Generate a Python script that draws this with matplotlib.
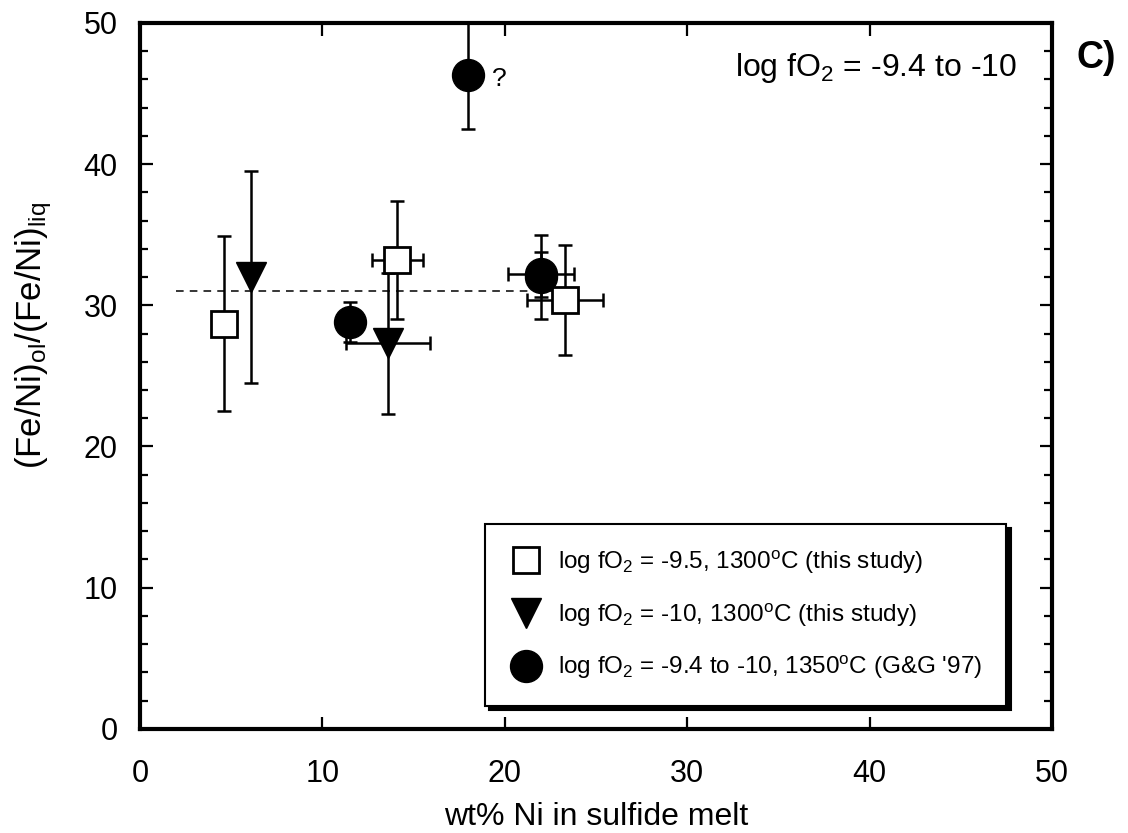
#!/usr/bin/env python3
# -*- coding: utf-8 -*-
"""Fe/Ni exchange between olivine and sulfide liquid vs. Ni content, panel C."""

import matplotlib

matplotlib.use("Agg")
import matplotlib.pyplot as plt
from matplotlib.ticker import MultipleLocator

plt.rcParams["font.family"] = ["Liberation Sans", "DejaVu Sans"]
plt.rcParams["mathtext.default"] = "regular"

# ---------------------------------------------------------------------------
# data
# ---------------------------------------------------------------------------
# log fO2 = -9.5, 1300 C (this study)
sq_x = [4.6, 14.1, 23.3]
sq_y = [28.7, 33.2, 30.4]
sq_xerr = [0.0, 1.4, 2.1]
sq_yerr = [6.2, 4.2, 3.9]

# log fO2 = -10, 1300 C (this study)
tri_x = [6.1, 13.6]
tri_y = [32.0, 27.3]
tri_xerr = [0.0, 2.3]
tri_yerr = [7.5, 5.0]

# log fO2 = -9.4 to -10, 1350 C (G&G '97)
circ_x = [11.5, 18.0, 22.0, 22.0]
circ_y = [28.8, 46.3, 32.2, 32.0]
circ_xerr = [0.0, 0.0, 1.8, 0.0]
circ_yerr = [1.4, 3.8, 1.6, 3.0]

mean_x = [2.0, 23.0]
mean_y = [31.0, 31.0]

labels = [
    "log fO$_2$ = -9.5, 1300$^{o}$C (this study)",
    "log fO$_2$ = -10, 1300$^{o}$C (this study)",
    "log fO$_2$ = -9.4 to -10, 1350$^{o}$C (G&G '97)",
]

fig = plt.figure(figsize=(11.28, 8.33), dpi=100)
ax = fig.add_axes([0.124, 0.125, 0.8086, 0.8475])

ax.plot(mean_x, mean_y, color="black", lw=1.1, ls=(0, (5, 4)), zorder=1)

eb = dict(fmt="none", ecolor="black", elinewidth=1.8, capsize=5, capthick=1.8, zorder=2)
ax.errorbar(sq_x, sq_y, xerr=sq_xerr, yerr=sq_yerr, **eb)
ax.errorbar(tri_x, tri_y, xerr=tri_xerr, yerr=tri_yerr, **eb)
ax.errorbar(circ_x, circ_y, xerr=circ_xerr, yerr=circ_yerr, **eb)

ax.plot(sq_x, sq_y, ls="none", marker="s", ms=18.5, mfc="white", mec="black",
        mew=2.0, zorder=4, label=labels[0])
ax.plot(tri_x, tri_y, ls="none", marker="v", ms=21, mfc="black", mec="black",
        zorder=4, label=labels[1])
ax.plot(circ_x, circ_y, ls="none", marker="o", ms=23, mfc="black", mec="black",
        zorder=4, label=labels[2])

ax.text(19.3, 46.0, "?", fontsize=19, va="center", ha="left")
ax.text(40.35, 46.8, "log fO$_2$ = -9.4 to -10", fontsize=23, ha="center", va="center")
fig.text(0.9716, 0.93, "C)", fontsize=27, fontweight="bold", ha="center", va="center")

ax.set_xlim(0, 50)
ax.set_ylim(0, 50)
ax.xaxis.set_major_locator(MultipleLocator(10))
ax.yaxis.set_major_locator(MultipleLocator(10))
ax.yaxis.set_minor_locator(MultipleLocator(2))
ax.tick_params(which="both", direction="in", top=True, right=True, width=1.6,
               labelsize=22)
ax.tick_params(axis="x", pad=22)
ax.tick_params(axis="y", pad=16)
ax.tick_params(which="major", length=9)
ax.tick_params(which="minor", length=6)
for sp in ax.spines.values():
    sp.set_linewidth(3)

ax.set_xlabel("wt% Ni in sulfide melt", fontsize=23, labelpad=9)
ax.set_ylabel("(Fe/Ni)$_{ol}$/(Fe/Ni)$_{liq}$", fontsize=25)
ax.yaxis.set_label_coords(-0.094, 0.557)

leg = ax.legend(loc="lower right", bbox_to_anchor=(0.95, 0.033), fontsize=17.5,
                frameon=True, fancybox=False, edgecolor="black",
                shadow={"color": "black", "alpha": 1.0, "ox": 3, "oy": -3},
                borderpad=1.0, labelspacing=1.05, handletextpad=0.6,
                handlelength=1.4, borderaxespad=0.0, markerscale=1.0)
leg.get_frame().set_linewidth(1.5)

fig.savefig("out.png", dpi=100)
plt.close(fig)
